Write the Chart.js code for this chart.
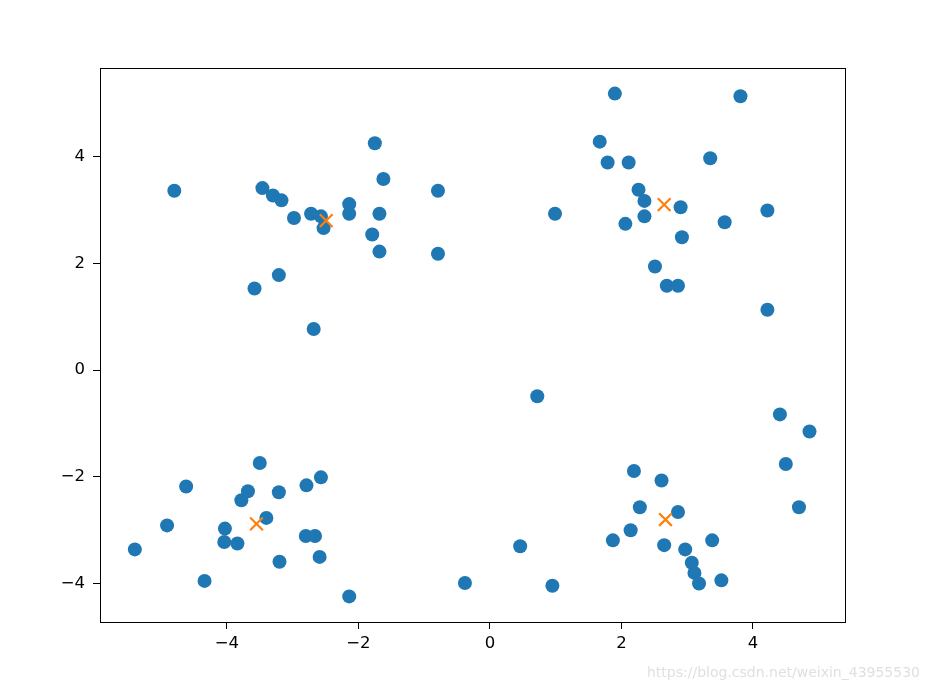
<!DOCTYPE html>
<html lang="zh">
<head>
  <meta charset="UTF-8">
  <title>KMeans scatter</title>
  <script src="https://cdn.jsdelivr.net/npm/chart.js@4.4.0/dist/chart.umd.min.js"></script>
  <style>
    body { margin: 0; background: #fff; }
  </style>
</head>
<body>
  <canvas id="scatterChart" width="930" height="693"></canvas>

  <script>
    // sample points (x, y)
    const pointsX = [
      -4.80, -3.46, -3.30, -3.17, -2.98, -2.72, -2.57, -2.53, -2.14, -2.14,
      -1.75, -1.62, -1.68, -1.79, -1.68, -0.79, -0.79, -3.21, -3.58, -2.68,
      1.90, 3.81, 1.67, 1.79, 2.11, 3.35, 2.26, 2.35, 2.35, 2.90,
      0.99, 2.06, 3.57, 4.22, 2.92, 2.51, 2.69, 2.86, 4.22,
      -3.50, -4.62, -3.68, -3.78, -3.21, -2.79, -2.57, -3.40, -4.91, -4.03,
      -4.04, -3.84, -5.40, -2.80, -2.66, -3.20, -2.59, -4.34, -2.14, -0.38,
      0.72, 4.41, 4.86, 4.50, 4.70, 2.19, 2.61, 2.28, 2.86, 2.14,
      1.87, 2.65, 2.97, 3.38, 3.07, 3.11, 3.18, 3.52, 0.46, 0.95
    ];
    const pointsY = [
      3.36, 3.41, 3.27, 3.18, 2.85, 2.93, 2.88, 2.66, 3.11, 2.93,
      4.25, 3.58, 2.93, 2.54, 2.22, 3.36, 2.18, 1.78, 1.53, 0.77,
      5.18, 5.13, 4.28, 3.89, 3.89, 3.97, 3.38, 3.17, 2.88, 3.05,
      2.93, 2.74, 2.77, 2.99, 2.49, 1.94, 1.58, 1.58, 1.13,
      -1.74, -2.18, -2.27, -2.44, -2.29, -2.16, -2.01, -2.77, -2.91, -2.97,
      -3.22, -3.25, -3.36, -3.11, -3.11, -3.59, -3.50, -3.95, -4.24, -3.99,
      -0.49, -0.83, -1.15, -1.76, -2.57, -1.89, -2.07, -2.57, -2.66, -3.00,
      -3.19, -3.28, -3.36, -3.19, -3.61, -3.80, -4.00, -3.94, -3.30, -4.04
    ];
    // cluster centres
    const centerX = [-2.49, 2.65, -3.55, 2.67];
    const centerY = [2.80, 3.10, -2.88, -2.80];

    const xTicks = [-4, -2, 0, 2, 4];
    const yTicks = [-4, -2, 0, 2, 4];

    const watermark = 'https://blog.csdn.net/weixin_43955530';

    const toXY = (xs, ys) => xs.map((x, i) => ({ x: x, y: ys[i] }));
    const fmt = v => (v < 0 ? '\u2212' + Math.abs(v) : String(v));

    // box around the axes + watermark
    const framePlugin = {
      id: 'frame',
      afterDraw(chart) {
        const { ctx, chartArea: a } = chart;
        ctx.save();
        ctx.strokeStyle = '#000';
        ctx.lineWidth = 1;
        ctx.strokeRect(a.left + 0.5, a.top + 0.5, a.right - a.left, a.bottom - a.top);
        ctx.font = '14px "DejaVu Sans", sans-serif';
        ctx.fillStyle = '#e0e0e0';
        ctx.textAlign = 'right';
        ctx.textBaseline = 'middle';
        ctx.fillText(watermark, 920, 673);
        ctx.restore();
      }
    };

    const tickFont = { family: '"DejaVu Sans", sans-serif', size: 16.5 };

    new Chart(document.getElementById('scatterChart'), {
      type: 'scatter',
      data: {
        datasets: [
          {
            label: 'points',
            data: toXY(pointsX, pointsY),
            backgroundColor: '#1f77b4',
            borderWidth: 0,
            pointRadius: 7,
            pointHoverRadius: 7,
            order: 2
          },
          {
            label: 'centres',
            data: toXY(centerX, centerY),
            pointStyle: 'crossRot',
            borderColor: '#ff7f0e',
            borderWidth: 2.2,
            pointRadius: 9,
            pointHoverRadius: 9,
            order: 1
          }
        ]
      },
      options: {
        responsive: false,
        animation: false,
        clip: false,
        layout: { padding: { left: 0, top: 68, right: 85, bottom: 0 } },
        plugins: { legend: { display: false }, tooltip: { enabled: false } },
        scales: {
          x: {
            type: 'linear',
            min: -5.93,
            max: 5.40,
            afterFit(s) { s.height = 71; },
            afterBuildTicks(s) { s.ticks = xTicks.map(v => ({ value: v })); },
            grid: { drawOnChartArea: false, drawTicks: true, tickLength: 7, color: '#000' },
            border: { display: true, color: '#000' },
            ticks: { color: '#000', font: tickFont, padding: 5, callback: v => fmt(v), maxRotation: 0 }
          },
          y: {
            type: 'linear',
            min: -4.72,
            max: 5.66,
            afterFit(s) { s.width = 100; },
            afterBuildTicks(s) { s.ticks = yTicks.map(v => ({ value: v })); },
            grid: { drawOnChartArea: false, drawTicks: true, tickLength: 7, color: '#000' },
            border: { display: true, color: '#000' },
            ticks: { color: '#000', font: tickFont, padding: 8, callback: v => fmt(v) }
          }
        }
      },
      plugins: [framePlugin]
    });
  </script>
</body>
</html>
